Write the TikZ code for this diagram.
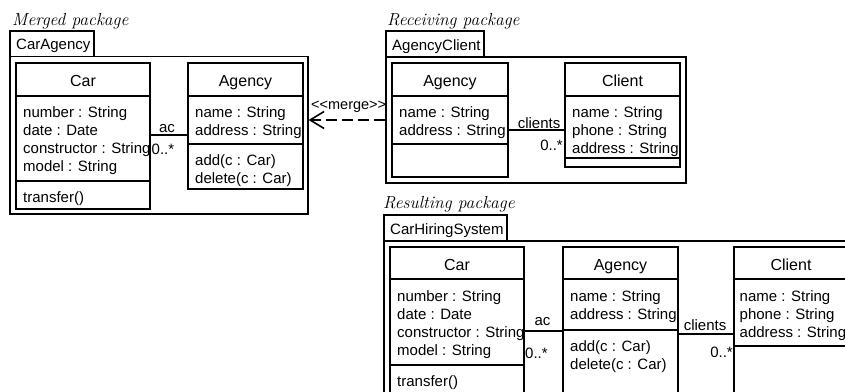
\documentclass[tikz,border=0pt]{standalone}
\usepackage{fontspec}
\setsansfont{Liberation Sans}
\usetikzlibrary{arrows.meta,fit}
\tikzset{
  umlbox/.style={draw, line width=1.1pt, inner sep=0pt},
  ln/.style={line width=1.1pt},
  txt/.style={anchor=base west, inner sep=0pt, font=\sffamily\fontsize{15}{18}\selectfont},
  ttl/.style={anchor=base, inner sep=0pt, font=\sffamily\fontsize{16}{19}\selectfont},
  pkgcap/.style={anchor=base west, inner sep=0pt, font=\itshape\fontsize{17.5}{20}\selectfont},
  mergeline/.style={line width=2pt, dash pattern=on 11pt off 5pt, -{Straight Barb[length=14pt, width=17pt, line width=1.6pt]}},
}
\begin{document}
\begin{tikzpicture}[x=1pt,y=-1pt]
\useasboundingbox (0,0) rectangle (845,391);
\clip (0,0) rectangle (845,391);

% ---------- Merged package ----------
\node[pkgcap] (capA) at (12,25) {Merged package};
\node[umlbox, fit={(10,31) (94,56.5)}] (tabA) {};
\node[umlbox, fit={(10,56.5) (308,214)}] (pkgA) {};
\node[txt] (tabAt) at (16,49.5) {CarAgency};

\node[umlbox, fit={(16,63) (150,209)}] (car1) {};
\draw[ln] (16,96) -- (150,96) (16,181) -- (150,181);
\node[ttl] (car1n) at (83,86) {Car};
\node[txt] (car1a1) at (23,117) {number : String};
\node[txt] (car1a2) at (23,135) {date : Date};
\node[txt] (car1a3) at (23,153) {constructor : String};
\node[txt] (car1a4) at (23,171) {model : String};
\node[txt] (car1o1) at (23,202.5) {transfer()};

\node[umlbox, fit={(188,63) (303,189)}] (ag1) {};
\draw[ln] (188,96) -- (303,96) (188,144) -- (303,144);
\node[ttl] (ag1n) at (245.5,86) {Agency};
\node[txt] (ag1a1) at (195,117) {name : String};
\node[txt] (ag1a2) at (195,135) {address : String};
\node[txt] (ag1o1) at (195,165.5) {add(c : Car)};
\node[txt] (ag1o2) at (195,183.5) {delete(c : Car)};

\coordinate (acA) at (0,135);
\draw[ln] (car1.east |- acA) -- (ag1.west |- acA);
\node[txt, anchor=base] (acAl) at (167,132) {ac};
\node[txt] (acAm) at (151.5,154) {0..*};

% ---------- Receiving package ----------
\node[pkgcap] (capB) at (387,25) {Receiving package};
\node[umlbox, fit={(386,31) (484,57)}] (tabB) {};
\node[umlbox, fit={(386,57) (686,183)}] (pkgB) {};
\node[txt] (tabBt) at (392,50) {AgencyClient};

\node[umlbox, fit={(392,63) (508,177)}] (ag2) {};
\draw[ln] (392,96) -- (508,96) (392,144) -- (508,144);
\node[ttl] (ag2n) at (450,86) {Agency};
\node[txt] (ag2a1) at (399,117) {name : String};
\node[txt] (ag2a2) at (399,135) {address : String};

\node[umlbox, fit={(565,63) (680,167)}] (cl2) {};
\draw[ln] (565,96) -- (680,96) (565,158) -- (680,158);
\node[ttl] (cl2n) at (622.5,86) {Client};
\node[txt] (cl2a1) at (572,117) {name : String};
\node[txt] (cl2a2) at (572,135) {phone : String};
\node[txt] (cl2a3) at (572,153) {address : String};

\coordinate (clB) at (0,130);
\draw[ln] (ag2.east |- clB) -- (cl2.west |- clB);
\node[txt, anchor=base] (clBl) at (539,128) {clients};
\node[txt, anchor=base east] (clBm) at (563,150) {0..*};

% ---------- merge dependency ----------
\coordinate (mA) at (0,120);
\draw[mergeline] (pkgB.west |- mA) -- (pkgA.east |- mA);
\node[txt, font=\sffamily\fontsize{14.5}{17}\selectfont] (mergel) at (311,109) {<{}<merge>{}>};

% ---------- Resulting package ----------
\node[pkgcap] (capC) at (383,208) {Resulting package};
\node[umlbox, fit={(384,215) (507,241)}] (tabC) {};
\node[umlbox, fit={(384,241) (870,420)}] (pkgC) {};
\node[txt] (tabCt) at (390,234) {CarHiringSystem};

\node[umlbox, fit={(390,247) (524,410)}] (car3) {};
\draw[ln] (390,279) -- (524,279) (390,365) -- (524,365);
\node[ttl] (car3n) at (457,270) {Car};
\node[txt] (car3a1) at (397,301) {number : String};
\node[txt] (car3a2) at (397,319) {date : Date};
\node[txt] (car3a3) at (397,337) {constructor : String};
\node[txt] (car3a4) at (397,355) {model : String};
\node[txt] (car3o1) at (397,386.5) {transfer()};

\node[umlbox, fit={(563,247) (678,410)}] (ag3) {};
\draw[ln] (563,279) -- (678,279) (563,330) -- (678,330);
\node[ttl] (ag3n) at (620.5,270) {Agency};
\node[txt] (ag3a1) at (570,301) {name : String};
\node[txt] (ag3a2) at (570,319) {address : String};
\node[txt] (ag3o1) at (570,351.5) {add(c : Car)};
\node[txt] (ag3o2) at (570,369.5) {delete(c : Car)};

\node[umlbox, fit={(734,247) (849,410)}] (cl3) {};
\draw[ln] (734,279) -- (849,279) (734,346) -- (849,346);
\node[ttl] (cl3n) at (791,270) {Client};
\node[txt] (cl3a1) at (739.5,301) {name : String};
\node[txt] (cl3a2) at (739.5,319) {phone : String};
\node[txt] (cl3a3) at (739.5,337) {address : String};

\coordinate (acC) at (0,331);
\draw[ln] (car3.east |- acC) -- (ag3.west |- acC);
\node[txt, anchor=base] (acCl) at (542.5,325) {ac};
\node[txt] (acCm) at (525,358) {0..*};

\coordinate (clC) at (0,334);
\draw[ln] (ag3.east |- clC) -- (cl3.west |- clC);
\node[txt, anchor=base] (clCl) at (705,330) {clients};
\node[txt, anchor=base east] (clCm) at (733,357) {0..*};
\end{tikzpicture}
\end{document}
